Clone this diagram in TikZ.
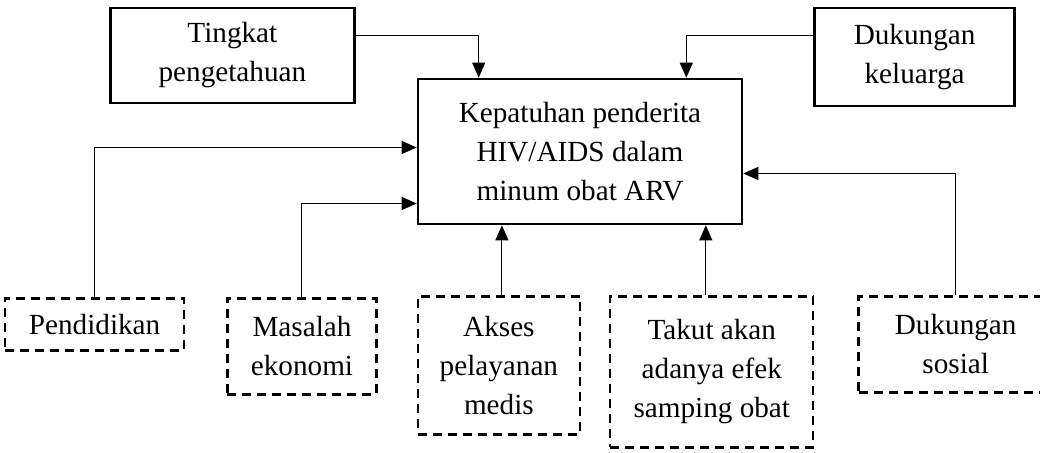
\documentclass[tikz,border=0pt]{standalone}
\usepackage{fontspec}
\setmainfont{Liberation Serif}
\usetikzlibrary{positioning,arrows.meta}

\begin{document}
\begin{tikzpicture}[
square/.style={rectangle, draw=black, line width=1.3pt, align=center, inner sep=0pt, font=\fontsize{14.6pt}{19.5pt}\selectfont},
square_dashed/.style={square, line width=1.2pt, dash pattern=on 4.5pt off 3pt},
connector/.style={-{Triangle[length=7.5pt,width=6.5pt]}, line width=0.5pt},
]
\useasboundingbox (-290pt,-150.75pt) rectangle (230pt,75.75pt);

% \node[type](name_of_node)[position=of name_of_node]{text_in_node}
\node[square, minimum width=162pt, minimum height=72.5pt](kepatuhan) at (0,0){Kepatuhan penderita\\HIV/AIDS dalam\\minum obat ARV};

\node[square, minimum width=122pt, minimum height=47.5pt](tingkat)[above left=35.5pt and 30.5pt of kepatuhan.north west, anchor=north east]{Tingkat\\pengetahuan};
\node[square, minimum width=100pt, minimum height=49pt](keluarga)[above right=35.5pt and 35pt of kepatuhan.north east, anchor=north west]{Dukungan\\keluarga};

\node[square_dashed, minimum width=81pt, minimum height=69pt](akses)[below=35pt of kepatuhan.south west, anchor=north west]{Akses\\pelayanan\\medis};
\node[square_dashed, minimum width=101.5pt, minimum height=75.5pt](takut)[right=14pt of akses.north east, anchor=north west]{Takut akan\\adanya efek\\samping obat};
\node[square_dashed, minimum width=97pt, minimum height=48pt](sosial)[right=21.5pt of takut.north east, anchor=north west]{Dukungan\\sosial};
\node[square_dashed, minimum width=74.5pt, minimum height=48pt](masalah)[left=19.5pt of akses.north west, anchor=north east, yshift=-1pt]{Masalah\\ekonomi};
\node[square_dashed, minimum width=89.5pt, minimum height=26pt](pendidikan)[left=20.5pt of masalah.north west, anchor=north east]{Pendidikan};

% arrows into the central box
\draw[connector] ([yshift=10pt]tingkat.east) -| ([xshift=31pt]kepatuhan.north west);
\draw[connector] ([yshift=10.5pt]keluarga.west) -| ([xshift=-28.5pt]kepatuhan.north east);

\draw[connector] (pendidikan.north) |- ([yshift=2pt]kepatuhan.west);
\draw[connector] (masalah.north) |- ([yshift=-26pt]kepatuhan.west);

\draw[connector] ([xshift=1.5pt]akses.north) -- ([xshift=1.5pt]akses.north |- kepatuhan.south);
\draw[connector] ([xshift=-3pt]takut.north) -- ([xshift=-3pt]takut.north |- kepatuhan.south);

\draw[connector] (sosial.north) |- ([yshift=-11pt]kepatuhan.east);

\end{tikzpicture}
\end{document}
